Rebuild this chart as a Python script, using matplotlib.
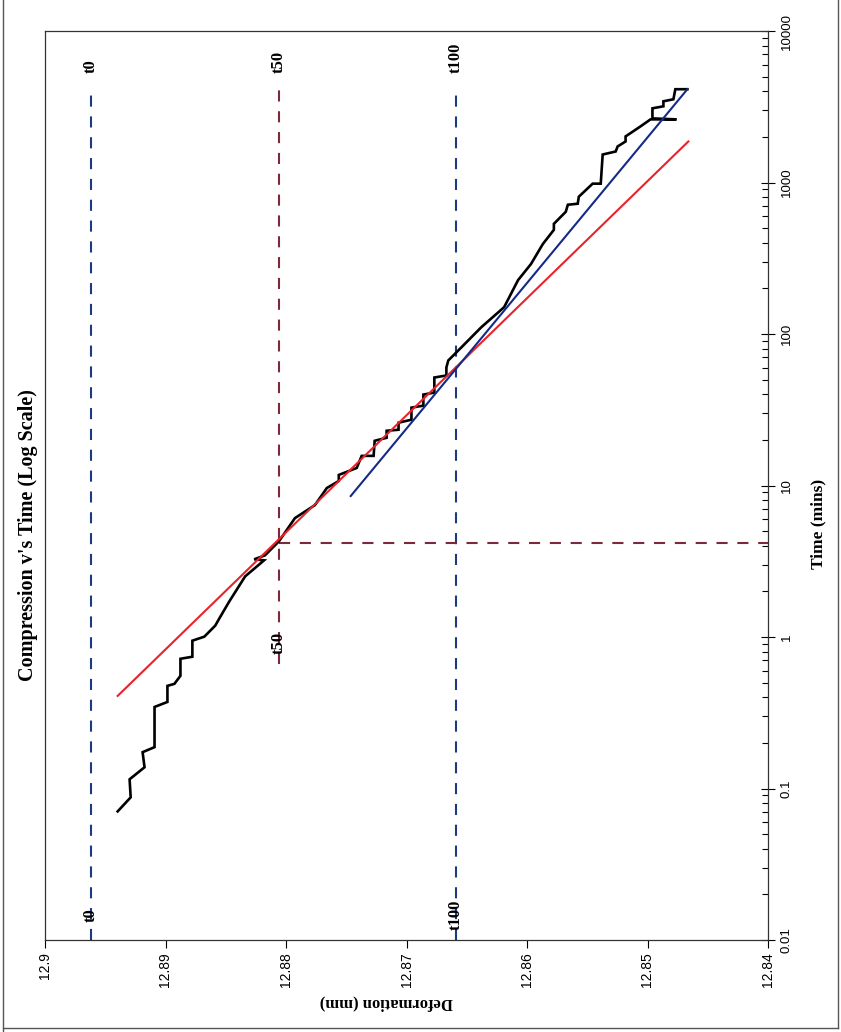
import matplotlib
matplotlib.use('Agg')
from matplotlib import pyplot as plt
from matplotlib.ticker import LogLocator, NullFormatter
from matplotlib.lines import Line2D

# Settlement readings
time_mins = [0.0706, 0.0874, 0.115, 0.1381, 0.1737, 0.1875, 0.3453, 0.3727,
             0.4759, 0.4907, 0.5544, 0.7184, 0.7407, 0.9456, 1.005, 1.189,
             1.323, 1.715, 2.513, 3.207, 3.257, 3.461, 4.287, 6.089, 7.427,
             9.627, 10.71, 11.74, 13.06, 15.69, 15.69, 19.73, 20.65, 22.98,
             23.34, 25.97, 27.19, 32.65, 33.67, 39.82, 41.06, 51.62, 53.22,
             60.13, 66.92, 81.57, 110.7, 150.3, 226.9,
             289.7, 393.2, 486.8, 533.7, 641.0, 713.3, 724.3, 805.8, 982.6,
             982.6, 1530, 1602, 1729, 1866, 2014, 2346, 2610, 2610, 2650,
             3088, 3184, 3436, 3542, 4128, 4128]
deformation = [12.89397, 12.89289, 12.89298, 12.89174, 12.89190, 12.89091,
               12.89091, 12.88984, 12.88984, 12.88926, 12.88876, 12.88876,
               12.88777, 12.88777, 12.88678, 12.88587, 12.88554, 12.88471,
               12.88339, 12.88182, 12.88264, 12.88174, 12.88058, 12.87926,
               12.87760, 12.87661, 12.87562, 12.87562, 12.87413, 12.87372,
               12.87273, 12.87264, 12.87165, 12.87165, 12.87066, 12.87066,
               12.86959, 12.86959, 12.86860, 12.86860, 12.86769, 12.86769,
               12.86669, 12.86669, 12.86653, 12.86545, 12.86380, 12.86190,
               12.86074, 12.85967, 12.85868, 12.85777, 12.85777, 12.85678,
               12.85661, 12.85579, 12.85570, 12.85455, 12.85388, 12.85372,
               12.85264, 12.85248, 12.85182, 12.85182, 12.85058, 12.84975,
               12.84760, 12.84959, 12.84959, 12.84868, 12.84868, 12.84785,
               12.84769, 12.84669]

# tangent lines
red_fit_d = [12.89397, 12.84661]
red_fit_t = [0.4085, 1866]
blue_fit_d = [12.87463, 12.84669]
blue_fit_t = [8.52, 4128]

# construction lines t0 / t50 / t100
t0_d = 12.8962
t50_d = 12.8806
t100_d = 12.8659
t50_time = 4.16
guide_top = 4320
t50_low = 0.665

def_ticks = [12.9, 12.89, 12.88, 12.87, 12.86, 12.85, 12.84]
def_labels = ['12.9', '12.89', '12.88', '12.87', '12.86', '12.85', '12.84']
time_ticks = [0.01, 0.1, 1, 10, 100, 1000, 10000]
time_labels = ['0.01', '0.1', '1', '10', '100', '1000', '10000']

plt.rcParams['font.family'] = 'Liberation Sans'
plt.rcParams['lines.scale_dashes'] = False

fig = plt.figure(figsize=(8.41, 10.32), dpi=100)
ax = fig.add_axes([45/841, 92/1032, 723/841, 909/1032])

navy = '#1c3a7e'
maroon = '#7a2a3a'
dash = (8, 7)

ax.plot([t0_d, t0_d], [0.01, guide_top], color=navy, lw=1.5, dashes=dash)
ax.plot([t100_d, t100_d], [0.01, guide_top], color=navy, lw=1.5, dashes=dash)
ax.plot([t50_d, t50_d], [t50_low, guide_top], color=maroon, lw=1.5, dashes=dash)
ax.plot([t50_d, 12.84], [t50_time, t50_time], color=maroon, lw=1.5, dashes=dash)

ax.plot(deformation, time_mins, color='black', lw=1.9, solid_joinstyle='miter')
ax.plot(red_fit_d, red_fit_t, color='#e8232b', lw=1.5)
ax.plot(blue_fit_d, blue_fit_t, color='#142a86', lw=1.5)

# point labels
lab = dict(rotation=90, ha='center', fontsize=12, fontweight='bold',
           family='Liberation Serif')
for d, name in [(t0_d, 't0'), (t50_d, 't50'), (t100_d, 't100')]:
    ax.text(d, 5270, name, va='bottom', **lab)
ax.text(t0_d, 0.01466, 't0', va='center', **lab)
ax.text(t100_d, 0.01466, 't100', va='center', **lab)
ax.text(t50_d, 0.917, 't50', va='center', **lab)

ax.set_xlim(12.9, 12.84)
ax.set_yscale('log')
ax.set_ylim(0.01, 10000)
ax.set_xticks(def_ticks, labels=def_labels)
ax.set_yticks(time_ticks, labels=time_labels)
ax.yaxis.set_minor_locator(LogLocator(base=10, subs=range(2, 10)))
ax.yaxis.set_minor_formatter(NullFormatter())
ax.yaxis.tick_right()
ax.tick_params(axis='x', direction='out', length=6, width=0.8,
               labelrotation=90, labelsize=10, pad=3)
ax.tick_params(axis='y', which='major', direction='inout', length=10, width=0.8,
               labelrotation=90, labelsize=9.5, pad=4)
ax.tick_params(axis='y', which='minor', direction='in', length=4, width=0.8)
for lbl in ax.get_yticklabels():
    lbl.set_va('center')
for s in ax.spines.values():
    s.set_linewidth(0.9)
    s.set_color('#333333')

fig.text(28/841, 1 - 535/1032, "Compression v's Time (Log Scale)", rotation=90,
         ha='center', va='center', fontsize=14.5, fontweight='bold',
         family='Liberation Serif')
fig.text(818/841, 1 - 524/1032, 'Time (mins)', rotation=90, ha='center',
         va='center', fontsize=12.5, fontweight='bold', family='Liberation Serif')
fig.text(386/841, 1 - 1003/1032, 'Deformation (mm)', rotation=180, ha='center',
         va='center', fontsize=12, fontweight='bold', family='Liberation Serif')

# page border
fig.add_artist(Line2D([3/841, 3/841], [0, 1], color='#555555', lw=1))
fig.add_artist(Line2D([838/841, 838/841], [4/1032, 1], color='#555555', lw=1))
fig.add_artist(Line2D([3/841, 838/841], [4/1032, 4/1032], color='#555555', lw=1))

fig.savefig('out.png', dpi=100)
